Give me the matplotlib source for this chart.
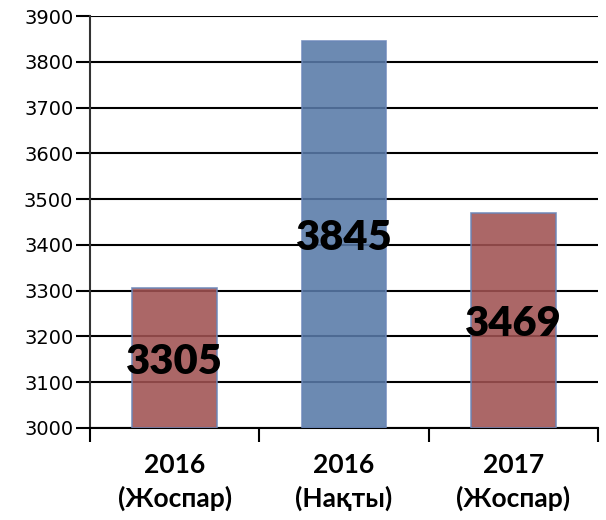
import matplotlib.pyplot as plt

categories = ['2016\n(Жоспар)', '2016\n(Нақты)', '2017\n(Жоспар)']
values = [3305, 3845, 3469]
colors = ['#A05252', '#587AA8', '#A05252']
yticks = [3000, 3100, 3200, 3300, 3400, 3500, 3600, 3700, 3800, 3900]

fig = plt.figure(figsize=(6.06, 5.2), dpi=100)
ax = fig.add_axes([0.1485, 0.177, 0.8385, 0.792])

ax.set_axisbelow(True)
ax.yaxis.grid(True, color='black', linewidth=1.5)
x = range(len(values))
bars = ax.bar(x, [v - 3000 for v in values], bottom=3000, width=0.5, color=colors,
              alpha=0.88, edgecolor='#6A86B8', linewidth=1.2, zorder=3)

for i, v in enumerate(values):
    ax.text(i, 3000 + (v - 3000) / 2, str(v), ha='center', va='center_baseline',
            fontsize=30, fontweight='heavy', family='Lato', color='black', zorder=4)

ax.set_ylim(3000, 3900)
ax.set_xlim(-0.5, 2.5)
ax.set_yticks(yticks)
ax.tick_params(axis='y', labelsize=14, length=10, width=1.5, direction='out', pad=2)
ax.set_xticks([-0.5, 0.5, 1.5, 2.5])
ax.set_xticklabels([])
ax.set_xticks(list(x), minor=True)
ax.set_xticklabels(categories, minor=True, fontsize=19, fontweight='bold', family='Lato', linespacing=1.4)
ax.tick_params(axis='x', which='minor', length=0, pad=18)
ax.tick_params(axis='x', which='major', length=10, width=1.5)

for s in ['top', 'right']:
    ax.spines[s].set_visible(False)
ax.spines['left'].set_linewidth(1.5)
ax.spines['left'].set_color('#333333')
ax.spines['bottom'].set_linewidth(1.5)

plt.savefig('out.png', dpi=100)
